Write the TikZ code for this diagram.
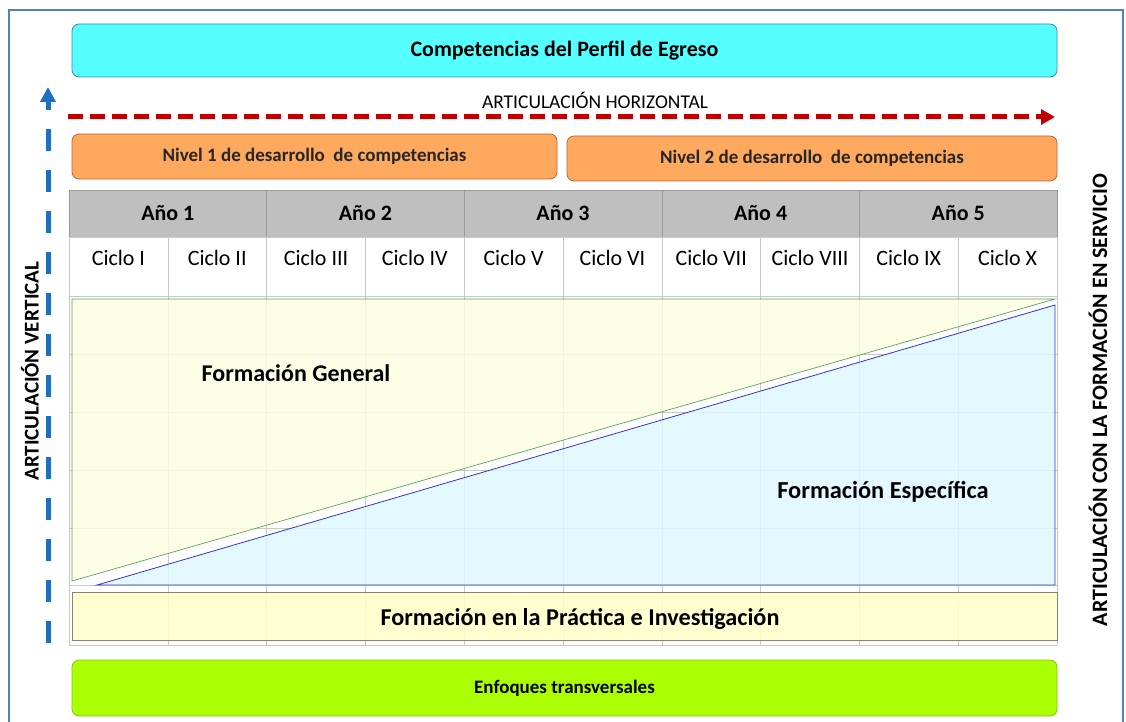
\documentclass[tikz,border=0pt]{standalone}
\usepackage{fontspec}
\setmainfont{Carlito}
\usetikzlibrary{arrows.meta}
\definecolor{cielo}{HTML}{55FFFF}
\definecolor{bordeazul}{HTML}{4F81BD}
\definecolor{naranja}{HTML}{FFA95E}
\definecolor{bordenaranja}{HTML}{B5643C}
\definecolor{gris}{HTML}{BFBFBF}
\definecolor{rejilla}{HTML}{C8C8C8}
\definecolor{amarillo}{HTML}{FCFEE0}
\definecolor{celeste}{HTML}{DFF8FF}
\definecolor{crema}{HTML}{FFFFC8}
\definecolor{lima}{HTML}{AAFF00}
\definecolor{bordelima}{HTML}{8CBF1A}
\definecolor{rojo}{HTML}{C00000}
\definecolor{azul}{HTML}{1F6FC0}

\begin{document}
\begin{tikzpicture}[x=1pt,y=-1pt,
  caja/.style={rounded corners=7pt, line width=0.8pt, minimum width=985, inner sep=0pt},
  nivel/.style={caja, fill=naranja, draw=bordenaranja, minimum height=45,
    font=\bfseries\fontsize{19}{22}\selectfont, text=black!85},
  celda/.style={draw=rejilla, line width=0.6pt, inner sep=0pt},
  vertical/.style={rotate=90, font=\bfseries\fontsize{21}{24}\selectfont}]
\useasboundingbox (0,0) rectangle (1126,722);
\draw[bordeazul, line width=1.5pt] (9,10) rectangle (1123,740);

\node[caja, fill=cielo, draw=bordeazul, minimum height=53,
  font=\bfseries\fontsize{22}{26}\selectfont] (perfil) at (564.5,50.5) {Competencias del Perfil de Egreso};

\node[font=\fontsize{19.5}{22}\selectfont] (horizontal) at (595,100) {ARTICULACIÓN HORIZONTAL};
\coordinate (h0) at (68,117);
\coordinate (h1) at (1055,117);
\draw[rojo, line width=5pt, dash pattern=on 15pt off 7pt, -{Triangle[length=14pt,width=15pt]}] (h0) -- (h1);

\node[nivel, minimum width=485] (nivel1) at (314.5,156.5) {Nivel 1 de desarrollo \ de competencias};
\node[nivel, minimum width=490] (nivel2) at (812,158.5) {Nivel 2 de desarrollo \ de competencias};

% filas de la tabla
\foreach \y in {354,412,470,528,585,645}
  \draw[rejilla, line width=0.6pt] (69,\y) -- (1057,\y);
\foreach \i in {0,...,10}
  \draw[rejilla, line width=0.6pt] (69+\i*98.8,296) -- (69+\i*98.8,645);

\foreach \a in {1,...,5}
  \node[celda, fill=gris, draw=gris!80!black, minimum width=197.6, minimum height=47,
    font=\bfseries\fontsize{22}{26}\selectfont] (anio\a) at (69+\a*197.6-98.8,213.5) {Año \a};

\foreach \c [count=\j] in {I,II,III,IV,V,VI,VII,VIII,IX,X} {
  \node[celda, minimum width=98.8, minimum height=59] (ciclo\j) at (69+\j*98.8-49.4,266.5) {};
  \node[font=\fontsize{22}{26}\selectfont] at (69+\j*98.8-49.4,258) {Ciclo \c};
}

\fill[amarillo, opacity=0.8] (72,299) -- (1055,299) -- (72,581) -- cycle;
\draw[gray!70!green, line width=0.7pt] (1055,299) -- (72,299) -- (72,581) -- cycle;
\fill[celeste, opacity=0.85] (97,585) -- (1055,305) -- (1055,585) -- cycle;
\draw[blue!60!gray, line width=0.8pt] (97,585) -- (1055,305) -- (1055,585) -- cycle;

\node[font=\bfseries\fontsize{24}{28}\selectfont] (general) at (296,373) {Formación General};
\node[font=\bfseries\fontsize{24.4}{28}\selectfont] (especifica) at (883,492) {Formación Específica};

\node[fill=crema, fill opacity=0.85, draw=gray!80!brown, line width=0.8pt,
  minimum width=985, minimum height=48, inner sep=0pt] (practica) at (564.5,616) {};
\node[font=\bfseries\fontsize{24.2}{28}\selectfont] (practicatexto) at (580,619) {Formación en la Práctica e Investigación};

\node[caja, fill=lima, draw=bordelima, minimum height=56,
  font=\bfseries\fontsize{19}{22}\selectfont] (enfoques) at (564.5,688) {Enfoques transversales};

\coordinate (v0) at (48,643);
\coordinate (v1) at (48,87);
\draw[azul, line width=5pt, dash pattern=on 22pt off 19pt, -{Triangle[length=15pt,width=15pt]}] (v0) -- (v1);

\node[vertical] (artvertical) at (30,371) {ARTICULACIÓN VERTICAL};
\node[vertical, font=\bfseries\fontsize{22}{26}\selectfont] (servicio) at (1098,400) {ARTICULACIÓN CON LA FORMACIÓN EN SERVICIO};
\end{tikzpicture}
\end{document}
